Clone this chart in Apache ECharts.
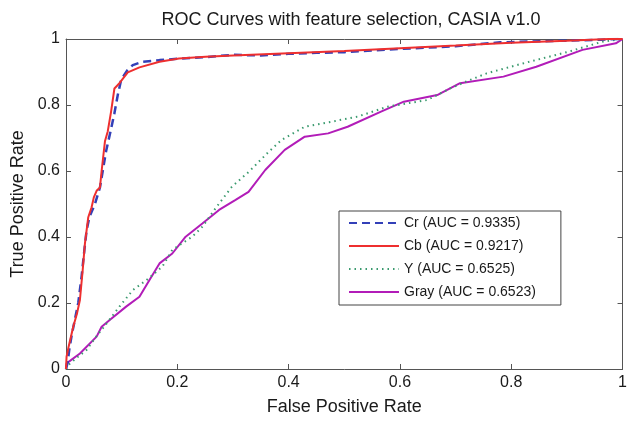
<!DOCTYPE html>
<html>
<head>
<meta charset="utf-8">
<script src="https://cdn.jsdelivr.net/npm/echarts@6/dist/echarts.min.js"></script>
<style>
  html, body { margin: 0; padding: 0; background: #fff; }
  #chart { width: 630px; height: 424px; }
</style>
</head>
<body>
<div id="chart"></div>
<script>
// ROC curves, one per colour channel: [false positive rate, true positive rate]
const seriesNames = ['Cr (AUC = 0.9335)', 'Cb (AUC = 0.9217)', 'Y (AUC = 0.6525)', 'Gray (AUC = 0.6523)'];

const rocCr = [
  [0, 0], [0.003, 0.02], [0.006, 0.06], [0.01, 0.1], [0.016, 0.15], [0.022, 0.2],
  [0.028, 0.28], [0.033, 0.36], [0.037, 0.42], [0.042, 0.46], [0.052, 0.5],
  [0.061, 0.55], [0.066, 0.6], [0.072, 0.66], [0.08, 0.72], [0.087, 0.775],
  [0.093, 0.83], [0.099, 0.876], [0.11, 0.905], [0.12, 0.921], [0.137, 0.931],
  [0.168, 0.936], [0.2, 0.94], [0.25, 0.945], [0.3, 0.952], [0.35, 0.95],
  [0.4, 0.955], [0.45, 0.958], [0.5, 0.96], [0.55, 0.965], [0.6, 0.97],
  [0.7, 0.978], [0.78, 0.99], [0.85, 0.993], [0.9, 0.995], [0.96, 0.998], [1, 1]
];

const rocCb = [
  [0, 0], [0.001, 0.037], [0.005, 0.07], [0.013, 0.128], [0.02, 0.17], [0.025, 0.209],
  [0.03, 0.3], [0.034, 0.38], [0.04, 0.46], [0.046, 0.49], [0.05, 0.52], [0.055, 0.54],
  [0.061, 0.55], [0.064, 0.6], [0.07, 0.69], [0.075, 0.72], [0.081, 0.78],
  [0.087, 0.85], [0.096, 0.866], [0.111, 0.899], [0.132, 0.914], [0.168, 0.931],
  [0.203, 0.941], [0.251, 0.946], [0.3, 0.95], [0.4, 0.957], [0.5, 0.964],
  [0.6, 0.972], [0.7, 0.98], [0.8, 0.989], [0.9, 0.995], [0.975, 1], [1, 1]
];

const rocY = [
  [0, 0], [0.004, 0.012], [0.02, 0.035], [0.037, 0.058], [0.055, 0.1], [0.073, 0.138],
  [0.096, 0.189], [0.12, 0.239], [0.145, 0.27], [0.173, 0.31], [0.191, 0.361],
  [0.227, 0.401], [0.245, 0.431], [0.27, 0.49], [0.298, 0.552], [0.33, 0.6],
  [0.364, 0.658], [0.387, 0.694], [0.429, 0.734], [0.476, 0.749], [0.524, 0.765],
  [0.578, 0.795], [0.649, 0.815], [0.69, 0.85], [0.726, 0.876], [0.756, 0.896],
  [0.821, 0.926], [0.904, 0.962], [0.964, 0.992], [1, 1]
];

const rocGray = [
  [0, 0], [0.001, 0.017], [0.025, 0.047], [0.055, 0.098], [0.064, 0.128], [0.078, 0.148],
  [0.108, 0.189], [0.132, 0.219], [0.15, 0.27], [0.168, 0.32], [0.191, 0.35],
  [0.215, 0.401], [0.245, 0.441], [0.275, 0.482], [0.304, 0.512], [0.328, 0.537],
  [0.358, 0.603], [0.393, 0.664], [0.429, 0.704], [0.471, 0.714], [0.506, 0.734],
  [0.566, 0.78], [0.607, 0.81], [0.667, 0.83], [0.708, 0.866], [0.786, 0.886],
  [0.845, 0.916], [0.928, 0.967], [0.988, 0.987], [1, 1]
];

const tickValues = [0, 0.2, 0.4, 0.6, 0.8, 1];

const FONT = '"Liberation Sans", Arial, Helvetica, sans-serif';
const AXIS_COLOR = '#555';
const TEXT_COLOR = '#1a1a1a';

function tickLabel() {
  return {
    color: TEXT_COLOR, fontFamily: FONT, fontSize: 16, margin: 6,
    formatter: v => String(tickValues.find(t => Math.abs(t - v) < 1e-9) ?? v)
  };
}

function frameAxis(extra) {
  return Object.assign({
    type: 'value', min: 0, max: 1, interval: 0.2,
    axisLine: { show: true, onZero: false, lineStyle: { color: AXIS_COLOR, width: 1 } },
    axisTick: { show: true, inside: true, length: 5, lineStyle: { color: AXIS_COLOR } },
    splitLine: { show: false },
    axisLabel: tickLabel()
  }, extra);
}

const chart = echarts.init(document.getElementById('chart'), null, { renderer: 'canvas' });

chart.setOption({
  backgroundColor: '#fff',
  animation: false,
  title: {
    text: 'ROC Curves with feature selection, CASIA v1.0',
    left: 346, top: 6, textAlign: 'center',
    textStyle: { color: TEXT_COLOR, fontFamily: FONT, fontSize: 18, fontWeight: 'normal' }
  },
  grid: { left: 66, right: 3, top: 39, bottom: 55, containLabel: false },
  legend: {
    orient: 'vertical',
    left: 339, top: 211,
    padding: [5, 25, 6, 9],
    itemWidth: 50, itemHeight: 14, itemGap: 9,
    borderColor: '#444', borderWidth: 1,
    backgroundColor: '#fff',
    itemStyle: { opacity: 0, borderWidth: 0 },
    textStyle: { color: TEXT_COLOR, fontFamily: FONT, fontSize: 14 },
    data: seriesNames
  },
  xAxis: [
    frameAxis({
      position: 'bottom',
      name: 'False Positive Rate', nameLocation: 'middle', nameGap: 29,
      nameTextStyle: { color: TEXT_COLOR, fontFamily: FONT, fontSize: 18 }
    }),
    frameAxis({ position: 'top', axisLabel: { show: false } })
  ],
  yAxis: [
    frameAxis({
      position: 'left',
      name: 'True Positive Rate', nameLocation: 'middle', nameGap: 39,
      nameTextStyle: { color: TEXT_COLOR, fontFamily: FONT, fontSize: 18 }
    }),
    frameAxis({ position: 'right', axisLabel: { show: false } })
  ],
  series: [
    {
      name: seriesNames[3], type: 'line', data: rocGray, symbol: 'none',
      lineStyle: { color: '#b21cb8', width: 2 }, itemStyle: { color: '#b21cb8' }, z: 2
    },
    {
      name: seriesNames[2], type: 'line', data: rocY, symbol: 'none',
      lineStyle: { color: '#3a9a6e', width: 2, type: [1.5, 4] }, itemStyle: { color: '#3a9a6e' }, z: 3
    },
    {
      name: seriesNames[0], type: 'line', data: rocCr, symbol: 'none',
      lineStyle: { color: '#3340b8', width: 2.5, type: [8, 5] }, itemStyle: { color: '#3340b8' }, z: 4
    },
    {
      name: seriesNames[1], type: 'line', data: rocCb, symbol: 'none',
      lineStyle: { color: '#ee2f2f', width: 2 }, itemStyle: { color: '#ee2f2f' }, z: 5
    }
  ]
});
</script>
</body>
</html>
